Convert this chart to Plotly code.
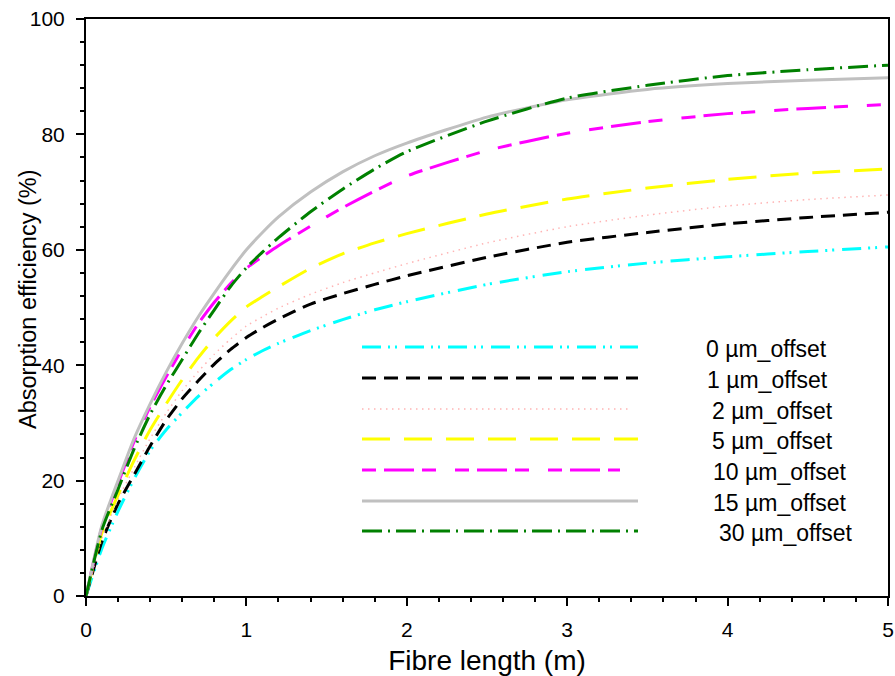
import plotly.graph_objects as go

# ---- data ----
fibre_length = [0, 0.1, 0.2, 0.3, 0.4, 0.5, 0.6, 0.7, 0.8, 0.9, 1.0, 1.1, 1.2, 1.4, 1.6, 1.8, 2.0, 2.5, 3.0, 3.5, 4.0, 4.5, 5.0]

eff_0um  = [0, 8.3, 14.7, 20.3, 25.2, 28.8, 31.8, 34.6, 37.0, 39.2, 41.0, 42.5, 43.8, 46.0, 47.9, 49.6, 51.0, 54.0, 56.2, 57.7, 58.8, 59.7, 60.5]
eff_1um  = [0, 9.5, 16.0, 21.0, 26.0, 30.5, 34.2, 37.3, 40.2, 42.7, 44.8, 46.5, 48.0, 50.6, 52.4, 54.0, 55.5, 58.7, 61.3, 63.0, 64.5, 65.6, 66.5]
eff_2um  = [0, 10.0, 16.8, 22.2, 27.3, 31.7, 35.6, 38.9, 41.9, 44.5, 46.8, 48.4, 49.9, 52.3, 54.3, 56.0, 57.6, 61.2, 64.0, 66.0, 67.6, 68.7, 69.5]
eff_5um  = [0, 11.0, 17.5, 23.5, 28.8, 33.3, 37.5, 41.3, 44.7, 47.6, 50.1, 51.9, 53.6, 56.8, 59.3, 61.2, 62.8, 66.2, 68.8, 70.7, 72.2, 73.3, 74.0]
eff_10um = [0, 12.0, 19.5, 26.8, 32.8, 38.0, 42.8, 47.2, 50.9, 54.1, 56.8, 58.8, 60.7, 64.1, 67.3, 70.2, 72.8, 77.2, 80.2, 82.2, 83.6, 84.5, 85.2]
eff_15um = [0, 12.3, 20.0, 27.3, 33.3, 38.8, 43.8, 48.4, 52.5, 56.4, 60.0, 63.0, 65.7, 70.0, 73.5, 76.3, 78.5, 83.0, 86.0, 87.8, 88.8, 89.4, 89.8]
eff_30um = [0, 11.5, 18.5, 25.5, 31.5, 36.5, 41.0, 45.5, 49.6, 53.6, 56.9, 59.6, 62.1, 66.6, 70.5, 74.0, 77.0, 82.3, 86.3, 88.5, 90.2, 91.2, 92.0]

series_names = ["0 \u00b5m_offset", "1 \u00b5m_offset", "2 \u00b5m_offset", "5 \u00b5m_offset",
                "10 \u00b5m_offset", "15 \u00b5m_offset", "30 \u00b5m_offset"]
series_values = [eff_0um, eff_1um, eff_2um, eff_5um, eff_10um, eff_15um, eff_30um]

x_ticks = [0, 1, 2, 3, 4, 5]
y_ticks = [0, 20, 40, 60, 80, 100]

x_title = "Fibre length (m)"
y_title = "Absorption efficiency (%)"

# ---- styles ----
styles = [
    dict(color="#00ffff", width=3, dash="19px,7px,2px,5px,2px,8px"),
    dict(color="#000000", width=3, dash="14px,8px"),
    dict(color="#ffb4b4", width=1.5, dash="1.5px,4.5px"),
    dict(color="#ffff00", width=3, dash="28px,14px"),
    dict(color="#ff00ff", width=3, dash="14px,8px,30px,8px,14px,19px"),
    dict(color="#c0c0c0", width=3, dash="solid"),
    dict(color="#008000", width=3, dash="20px,6px,2px,6px"),
]

FONT = "Liberation Sans, Arial, sans-serif"
W, H = 895, 676
L, R, T, B = 86, 888, 19, 596

fig = go.Figure()
for name, vals, st in zip(series_names, series_values, styles):
    fig.add_trace(go.Scatter(x=fibre_length, y=vals, mode="lines", name=name,
                             line=dict(shape="spline", smoothing=0.6, **st),
                             showlegend=False, hoverinfo="skip"))

# legend built from shapes + annotations (wide samples as in the reference)
leg_rows = [347, 378, 409, 439, 470, 501, 531]
leg_x0 = 362
leg_x1 = [638, 638, 628, 638, 620, 638, 638]
leg_text_x = [704, 705, 710, 710, 711, 711, 717]

def px2paper_x(px):
    return (px - L) / (R - L)

def px2paper_y(py):
    return (B - py) / (B - T)

shapes = []
annotations = []
for i, (name, st) in enumerate(zip(series_names, styles)):
    yy = px2paper_y(leg_rows[i])
    shapes.append(dict(type="line", xref="paper", yref="paper",
                       x0=px2paper_x(leg_x0), x1=px2paper_x(leg_x1[i]), y0=yy, y1=yy,
                       line=dict(color=st["color"], width=st["width"], dash=st["dash"])))
    annotations.append(dict(xref="paper", yref="paper", x=px2paper_x(leg_text_x[i]),
                            y=px2paper_y(leg_rows[i] + 2), text=name, showarrow=False,
                            xanchor="left", yanchor="middle",
                            font=dict(family=FONT, size=23, color="black")))

# y-axis title placed as a rotated annotation (closer to the axis than standoff allows)
annotations.append(dict(xref="paper", yref="paper", x=0, xshift=28 - L, y=px2paper_y(299),
                        text=y_title, textangle=-90, showarrow=False,
                        xanchor="center", yanchor="middle",
                        font=dict(family=FONT, size=23.5, color="black")))

axis_common = dict(showline=True, linecolor="black", linewidth=2, showgrid=False,
                   zeroline=False, ticks="outside", ticklen=8, tickwidth=1.5, tickcolor="black",
                   automargin=False,
                   tickfont=dict(family=FONT, size=21, color="black"))

fig.update_layout(
    width=W, height=H,
    margin=dict(l=L, r=W - R, t=T, b=H - B),
    plot_bgcolor="white", paper_bgcolor="white",
    showlegend=False,
    xaxis=dict(range=[0, 5], tickvals=x_ticks, mirror=True, ticklabelstandoff=6,
               minor=dict(dtick=0.2, ticks="outside", ticklen=4, tickwidth=1.5, tickcolor="black"),
               title=dict(text=x_title, font=dict(family=FONT, size=28, color="black"), standoff=10),
               **axis_common),
    yaxis=dict(range=[0, 100], tickvals=y_ticks, mirror=True, ticklabelstandoff=7,
               minor=dict(dtick=4, ticks="outside", ticklen=4, tickwidth=1.5, tickcolor="black"),
               **axis_common),
    xaxis2=dict(range=[0, 5], overlaying="x", side="top", tickvals=x_ticks, showticklabels=False,
                ticks="inside", ticklen=8, tickwidth=1.5, tickcolor="black", showgrid=False, zeroline=False,
                automargin=False,
                minor=dict(dtick=0.2, ticks="inside", ticklen=4, tickwidth=1.5, tickcolor="black")),
    yaxis2=dict(range=[0, 100], overlaying="y", side="right", tickvals=y_ticks, showticklabels=False,
                ticks="inside", ticklen=8, tickwidth=1.5, tickcolor="black", showgrid=False, zeroline=False,
                automargin=False,
                minor=dict(dtick=4, ticks="inside", ticklen=4, tickwidth=1.5, tickcolor="black")),
    shapes=shapes,
    annotations=annotations,
)

fig.write_html("out.html", config={"displayModeBar": False},
               post_script="document.body.style.margin='0';document.body.style.overflow='hidden';")
